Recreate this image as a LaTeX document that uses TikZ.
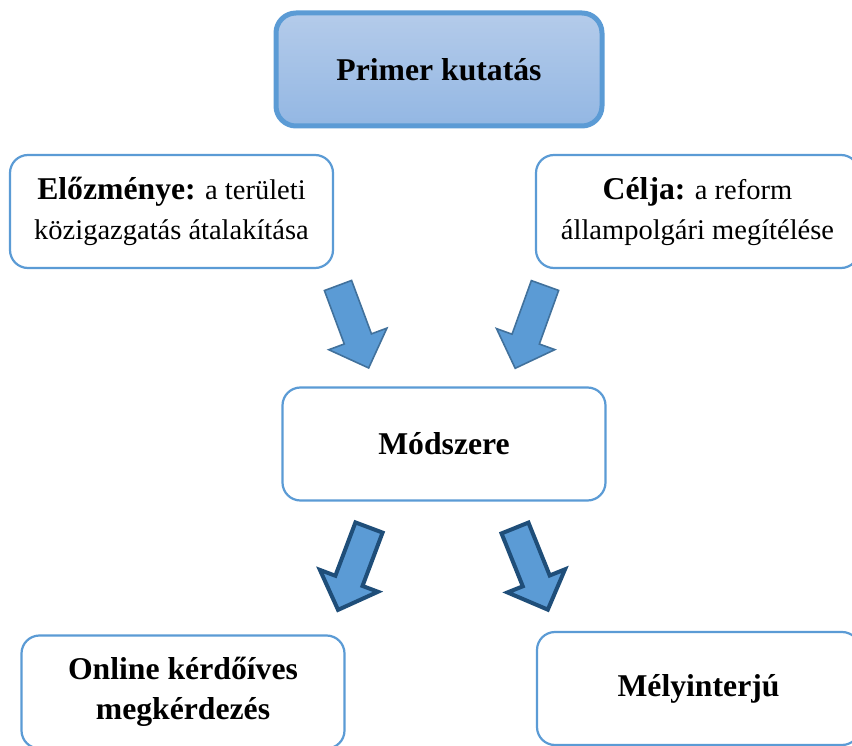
\documentclass[tikz,border=0pt]{standalone}
\usepackage{fontspec}
\setmainfont{Liberation Serif}
\definecolor{boxblue}{RGB}{91,155,213}
\definecolor{arrfill}{RGB}{91,155,213}
\definecolor{arrline}{RGB}{65,113,156}
\definecolor{arrdark}{RGB}{31,78,121}
\definecolor{topshade}{RGB}{180,203,234}
\definecolor{botshade}{RGB}{147,183,227}
\newcommand\blkarrow[3]{%
  \draw[#1, shift={#2}, rotate=#3] (0,-14.5) -- (57,-14.5) -- (57,-31) -- (88,0) -- (57,31) -- (57,14.5) -- (0,14.5) -- cycle;}
\tikzset{
  box/.style={draw=boxblue, line width=2.2pt, rounded corners=18pt, fill=white,
    minimum width=323pt, minimum height=113pt, align=center, inner sep=0pt,
    font=\fontsize{28.5}{40}\selectfont},
  titlebox/.style={draw=boxblue, line width=5pt, rounded corners=20pt,
    top color=topshade, bottom color=botshade,
    minimum width=326pt, minimum height=113pt, align=center, inner sep=0pt,
    font=\fontsize{31.7}{38}\selectfont\bfseries},
  bigb/.style={font=\fontsize{31.7}{40}\selectfont\bfseries},
  uparr/.style={fill=arrfill, draw=arrline, line width=1.6pt, line join=miter},
  loarr/.style={fill=arrfill, draw=arrdark, line width=4pt, line join=miter},
}
\newcommand\bigbold[1]{{\fontsize{31.7}{40}\selectfont\bfseries #1}}
\begin{document}
\begin{tikzpicture}[x=1pt,y=-1pt]
\useasboundingbox (0,0) rectangle (852,746);
\clip (0,0) rectangle (852,746);
\node[titlebox] (primer) at (439,69.5) {Primer kutatás};
\node[box] (elo) at (171.5,211.5) {\bigbold{Előzménye:} a területi\\közigazgatás átalakítása};
\node[box] (cel) at (697.5,211.5) {\bigbold{Célja:} a reform\\állampolgári megítélése};
\node[box, font=\fontsize{31.7}{40}\selectfont\bfseries] (mod) at (444,444) {Módszere};
\node[box, font=\fontsize{31.7}{40}\selectfont\bfseries] (onl) at (183,692) {Online kérdőíves\\megkérdezés};
\node[box, font=\fontsize{31.7}{40}\selectfont\bfseries] (mely) at (698.5,688.5) {Mélyinterjú};
\blkarrow{uparr}{(338,285.5)}{-69.6}
\blkarrow{uparr}{(545,285.5)}{-109.8}
\blkarrow{loarr}{(369,527.5)}{-110.6}
\blkarrow{loarr}{(515,528)}{-68.1}
\end{tikzpicture}
\end{document}
